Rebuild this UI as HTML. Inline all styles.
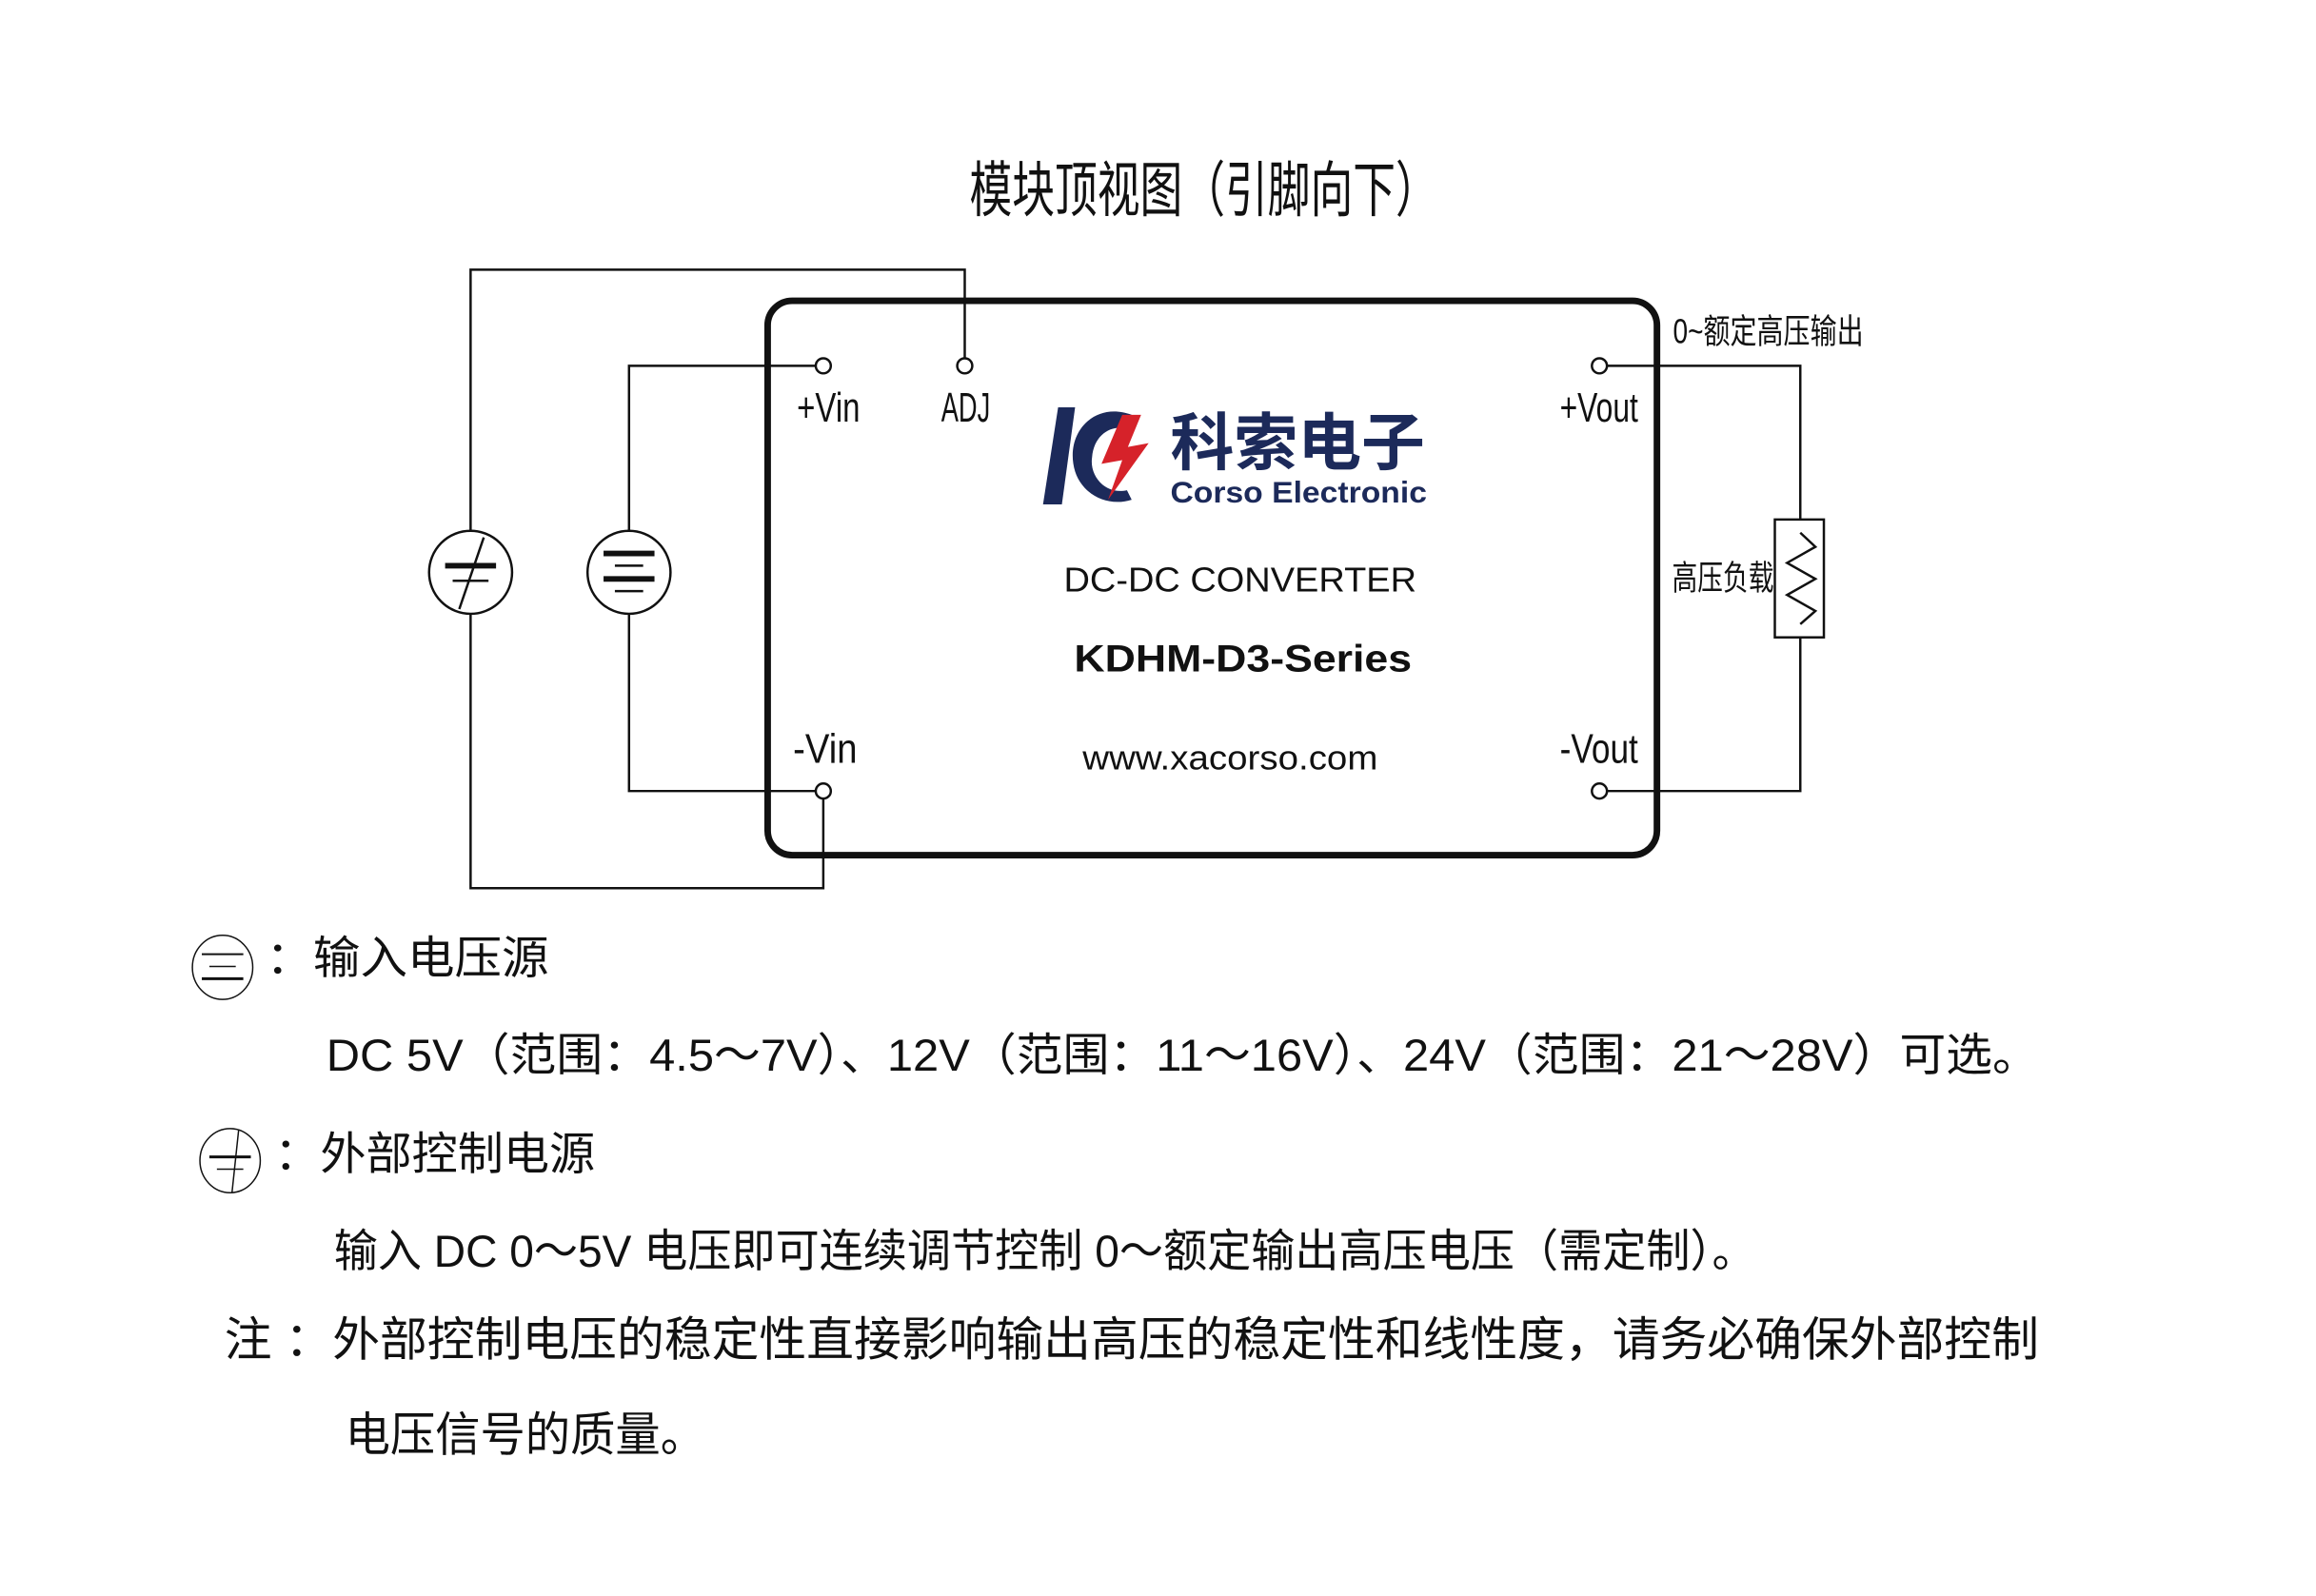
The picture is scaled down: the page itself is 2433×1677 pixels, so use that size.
<!DOCTYPE html>
<html><head><meta charset="utf-8"><style>
html,body{margin:0;padding:0;background:#fff;}
svg{display:block;}
.t{font-family:"Liberation Sans","Noto Sans CJK SC",sans-serif;fill:#111;}
</style></head><body>
<svg width="2433" height="1677" viewBox="0 0 2433 1677" xmlns="http://www.w3.org/2000/svg">
<rect width="2433" height="1677" fill="#fff"/>
<g transform="scale(0.9907)">
<text class="t" x="1028" y="203" font-size="64" dominant-baseline="central" textLength="497" lengthAdjust="spacingAndGlyphs">模块顶视图（引脚向下）</text>

<rect x="814" y="319" width="943" height="588" rx="26" fill="none" stroke="#111" stroke-width="7"/>

<g fill="none" stroke="#111" stroke-width="2.5">
<polyline points="1023,380 1023,286 499,286 499,563"/>
<polyline points="499,651 499,942 873,942 873,847"/>
<polyline points="865,388 667,388 667,563"/>
<polyline points="667,651 667,839 865,839"/>
<polyline points="1704,388 1909,388 1909,551"/>
<polyline points="1909,676 1909,839 1704,839"/>
<rect x="1882" y="551" width="52" height="125"/>
<polyline points="1909,565 1925,580 1895,597 1925,614 1895,631 1925,648 1909,662"/>
<circle cx="873" cy="388" r="8"/><circle cx="1023" cy="388" r="8"/>
<circle cx="873" cy="839" r="8"/><circle cx="1696" cy="388" r="8"/><circle cx="1696" cy="839" r="8"/>
<ellipse cx="499" cy="607" rx="44" ry="44"/>
<ellipse cx="667" cy="607" rx="44" ry="44"/>
</g>
<g stroke="#111">
<line x1="472" y1="600" x2="526" y2="600" stroke-width="6"/>
<line x1="480" y1="616" x2="518" y2="616" stroke-width="2.5"/>
<line x1="487" y1="646" x2="513" y2="570" stroke-width="2.5"/>
<line x1="640" y1="587" x2="694" y2="587" stroke-width="6"/>
<line x1="652" y1="600" x2="682" y2="600" stroke-width="2.5"/>
<line x1="640" y1="614" x2="694" y2="614" stroke-width="6"/>
<line x1="652" y1="627" x2="682" y2="627" stroke-width="2.5"/>
</g>

<text class="t" x="845" y="433" font-size="44" dominant-baseline="central" textLength="67" lengthAdjust="spacingAndGlyphs">+Vin</text>
<text class="t" x="998" y="433" font-size="44" dominant-baseline="central" textLength="52" lengthAdjust="spacingAndGlyphs">ADJ</text>
<text class="t" x="1654" y="433" font-size="44" dominant-baseline="central" textLength="83" lengthAdjust="spacingAndGlyphs">+Vout</text>
<text class="t" x="841" y="795" font-size="44" dominant-baseline="central" textLength="68" lengthAdjust="spacingAndGlyphs">-Vin</text>
<text class="t" x="1654" y="795" font-size="44" dominant-baseline="central" textLength="83" lengthAdjust="spacingAndGlyphs">-Vout</text>
<text class="t" x="1774" y="352" font-size="36" dominant-baseline="central" textLength="202" lengthAdjust="spacingAndGlyphs">0~额定高压输出</text>
<text class="t" x="1773" y="613" font-size="36" dominant-baseline="central" textLength="108" lengthAdjust="spacingAndGlyphs">高压负载</text>

<polygon points="1122,432 1140,432 1126,535 1106,535" fill="#1c2a5a"/>
<path d="M1200,440 C1160,425 1128,460 1140,500 C1148,525 1175,538 1200,530 L1195,520 C1172,525 1155,505 1158,485 C1160,460 1180,450 1195,455 Z" fill="#1c2a5a"/>
<polygon points="1190,440 1168,492 1190,488 1175,530 1218,470 1196,474 1210,440" fill="#d6222a"/>
<text x="1241" y="464" font-family="'Noto Sans CJK SC',sans-serif" font-weight="bold" font-size="66" fill="#1c2a5a" dominant-baseline="central" textLength="270" lengthAdjust="spacingAndGlyphs">科索电子</text>
<text x="1241" y="522" font-family="'Liberation Sans',sans-serif" font-weight="bold" font-size="32" fill="#1c2a5a" dominant-baseline="central" textLength="272" lengthAdjust="spacingAndGlyphs">Corso Electronic</text>

<text class="t" x="1128" y="615" font-size="36" dominant-baseline="central" textLength="374" lengthAdjust="spacingAndGlyphs">DC-DC CONVERTER</text>
<text class="t" x="1139" y="699" font-size="40" font-weight="bold" dominant-baseline="central" textLength="358" lengthAdjust="spacingAndGlyphs">KDHM-D3-Series</text>
<text class="t" x="1148" y="804" font-size="36" dominant-baseline="central" textLength="313" lengthAdjust="spacingAndGlyphs">www.xacorso.com</text>

<g fill="none" stroke="#111" stroke-width="1.5">
<ellipse cx="236" cy="1026" rx="32" ry="34"/>
<ellipse cx="244" cy="1231" rx="32" ry="34"/>
<line x1="246" y1="1265" x2="253" y2="1199"/>
</g>
<g stroke="#111">
<line x1="214" y1="1012" x2="258" y2="1012" stroke-width="2"/>
<line x1="222" y1="1025" x2="250" y2="1025" stroke-width="1.5"/>
<line x1="214" y1="1038" x2="258" y2="1038" stroke-width="3"/>
<line x1="222" y1="1227" x2="266" y2="1227" stroke-width="3"/>
<line x1="230" y1="1240" x2="258" y2="1240" stroke-width="1.5"/>
</g>

<text class="t" x="282" y="1017" font-size="48" dominant-baseline="central" textLength="300" lengthAdjust="spacingAndGlyphs">：输入电压源</text>
<text class="t" x="346" y="1120" font-size="48" dominant-baseline="central" textLength="1816" lengthAdjust="spacingAndGlyphs">DC 5V（范围：4.5～7V）、12V（范围：11～16V）、24V（范围：21～28V）可选。</text>
<text class="t" x="291" y="1225" font-size="48" dominant-baseline="central" textLength="340" lengthAdjust="spacingAndGlyphs">：外部控制电源</text>
<text class="t" x="354" y="1328" font-size="48" dominant-baseline="central" textLength="1508" lengthAdjust="spacingAndGlyphs">输入 DC 0～5V 电压即可连续调节控制 0～额定输出高压电压（需定制）。</text>
<text class="t" x="238" y="1421" font-size="50" dominant-baseline="central" textLength="1924" lengthAdjust="spacingAndGlyphs">注 ：外部控制电压的稳定性直接影响输出高压的稳定性和线性度，请务必确保外部控制</text>
<text class="t" x="366" y="1522" font-size="50" dominant-baseline="central" textLength="382" lengthAdjust="spacingAndGlyphs">电压信号的质量。</text>
</g>
</svg>
</body></html>
